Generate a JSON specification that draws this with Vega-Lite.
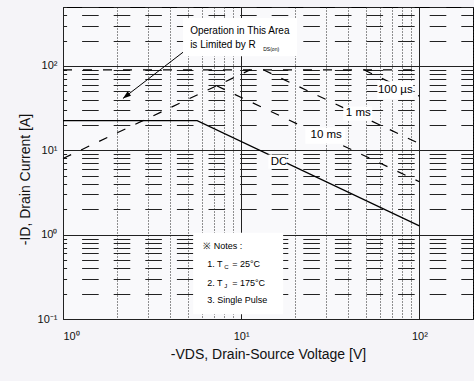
{
  "$schema": "https://vega.github.io/schema/vega-lite/v6.json",
  "width": 410,
  "height": 312,
  "autosize": {"type": "none"},
  "padding": {"left": 63, "top": 7, "right": 1, "bottom": 62},
  "background": "#f5f4f8",
  "config": {
    "font": "Liberation Sans",
    "view": {"stroke": "#000000", "strokeWidth": 1, "fill": "#f9f9fb"},
    "axis": {
      "domain": false,
      "ticks": false,
      "tickSize": 0,
      "grid": true,
      "gridOpacity": 1,
      "labelFont": "Liberation Sans",
      "labelFontSize": 11,
      "labelColor": "#111111",
      "titleFont": "Liberation Sans",
      "titleFontSize": 14,
      "titleFontWeight": "normal",
      "titleColor": "#111111",
      "labelOverlap": false
    }
  },
  "datasets": {
    "limits": [
      {"series": "RDS(on)", "v": 1, "i": 8},
      {"series": "RDS(on)", "v": 11.25, "i": 90},
      {"series": "IDM", "v": 1, "i": 90},
      {"series": "IDM", "v": 100, "i": 90},
      {"series": "100 us", "v": 48.8, "i": 90},
      {"series": "100 us", "v": 100, "i": 43.9},
      {"series": "1 ms", "v": 13.3, "i": 90},
      {"series": "1 ms", "v": 100, "i": 12},
      {"series": "10 ms", "v": 7.28, "i": 58.2},
      {"series": "10 ms", "v": 100, "i": 4.24}
    ],
    "dc": [
      {"v": 1, "i": 22.5},
      {"v": 5.66, "i": 22.5},
      {"v": 100, "i": 1.27}
    ],
    "arrow": [
      {"v": 4.72, "i": 145.6},
      {"v": 2.17, "i": 41.2}
    ],
    "arrowTip": [
      {"v": 2.17, "i": 41.2}
    ],
    "boxes": [
      {"name": "annotation", "v": 4.72, "v2": 20.6, "i": 130, "i2": 370},
      {"name": "notes", "v": 5.38, "v2": 17.2, "i": 0.114, "i2": 1.05},
      {"name": "DC", "v": 14.2, "v2": 18.1, "i": 6.05, "i2": 8.9},
      {"name": "100 us", "v": 58.1, "v2": 92.5, "i": 40.2, "i2": 65.8},
      {"name": "1 ms", "v": 37.4, "v2": 54.4, "i": 22.6, "i2": 33.1},
      {"name": "10 ms", "v": 22.9, "v2": 38.4, "i": 12.0, "i2": 18.6}
    ],
    "curveLabels": [
      {"v": 73.3, "i": 51.4, "text": "100 µs"},
      {"v": 45.4, "i": 27.4, "text": "1 ms"},
      {"v": 30.0, "i": 15.0, "text": "10 ms"},
      {"v": 16.3, "i": 7.33, "text": "DC"}
    ],
    "annotation": [
      {"v": 5.17, "i": 259, "text": "Operation in This Area"},
      {"v": 5.17, "i": 176, "text": "is Limited by R"}
    ],
    "notes": [
      {"v": 6.12, "i": 0.734, "text": "※ Notes :"},
      {"v": 6.44, "i": 0.448, "text": "1. T"},
      {"v": 8.9, "i": 0.448, "text": "= 25°C"},
      {"v": 6.44, "i": 0.266, "text": "2. T"},
      {"v": 8.9, "i": 0.266, "text": "= 175°C"},
      {"v": 6.44, "i": 0.167, "text": "3. Single Pulse"}
    ],
    "annotationSub": [
      {"v": 13.3, "i": 158, "text": "DS(on)"}
    ],
    "noteSub": [
      {"v": 8.03, "i": 0.412, "text": "C"},
      {"v": 8.03, "i": 0.245, "text": "J"}
    ]
  },
  "encoding": {
    "x": {
      "field": "v",
      "type": "quantitative",
      "scale": {"type": "log", "domain": [1, 200], "nice": false},
      "axis": {
        "title": "-VDS, Drain-Source Voltage [V]",
        "titlePadding": 6,
        "labelPadding": 11,
        "values": [1, 2, 3, 4, 5, 6, 7, 8, 9, 10, 20, 30, 40, 50, 60, 70, 80, 90, 100, 200],
        "labelExpr": "datum.value == 1 ? '10\u2070' : datum.value == 10 ? '10\u00b9' : datum.value == 100 ? '10\u00b2' : ''",
        "gridColor": "#222222",
        "gridWidth": 1,
        "gridDash": {"condition": {"test": "datum.value == 1 || datum.value == 10 || datum.value == 100", "value": []}, "value": [1, 2]}
      }
    },
    "y": {
      "field": "i",
      "type": "quantitative",
      "scale": {"type": "log", "domain": [0.1, 500], "nice": false},
      "axis": {
        "title": "-ID, Drain Current [A]",
        "titlePadding": 5,
        "titleY": 172,
        "labelPadding": 6,
        "values": [0.1, 0.2, 0.3, 0.4, 0.5, 0.6, 0.7, 0.8, 0.9, 1, 2, 3, 4, 5, 6, 7, 8, 9, 10, 20, 30, 40, 50, 60, 70, 80, 90, 100, 200, 300, 400, 500],
        "labelExpr": "datum.value == 0.1 ? '10\u207b\u00b9' : datum.value == 1 ? '10\u2070' : datum.value == 10 ? '10\u00b9' : datum.value == 100 ? '10\u00b2' : ''",
        "gridColor": "#222222",
        "gridWidth": 1,
        "gridDash": {"condition": {"test": "datum.value == 0.1 || datum.value == 1 || datum.value == 10 || datum.value == 100", "value": []}, "value": [16.6, 15]},
        "gridDashOffset": 13
      }
    }
  },
  "layer": [
    {
      "data": {"name": "limits"},
      "mark": {"type": "line", "color": "#000000", "strokeWidth": 1.2, "strokeDash": [9, 11]},
      "encoding": {"detail": {"field": "series"}}
    },
    {
      "data": {"name": "dc"},
      "mark": {"type": "line", "color": "#000000", "strokeWidth": 1.2},
      "encoding": {}
    },
    {
      "data": {"name": "arrow"},
      "mark": {"type": "line", "color": "#000000", "strokeWidth": 1},
      "encoding": {}
    },
    {
      "data": {"name": "arrowTip"},
      "mark": {"type": "point", "shape": "M0,0L-0.7,2L0.7,2Z", "size": 64, "angle": 232.5, "filled": true, "color": "#000000", "opacity": 1}
    },
    {
      "data": {"name": "boxes"},
      "mark": {"type": "rect", "fill": "#ffffff", "stroke": null},
      "encoding": {
        "x2": {"field": "v2"},
        "y2": {"field": "i2"}
      }
    },
    {
      "data": {"name": "curveLabels"},
      "mark": {"type": "text", "fontSize": 11.5, "align": "center", "baseline": "middle", "color": "#000000"},
      "encoding": {"text": {"field": "text"}}
    },
    {
      "data": {"name": "annotation"},
      "mark": {"type": "text", "fontSize": 10, "align": "left", "baseline": "middle", "color": "#000000"},
      "encoding": {"text": {"field": "text"}}
    },
    {
      "data": {"name": "notes"},
      "mark": {"type": "text", "fontSize": 9, "align": "left", "baseline": "middle", "color": "#000000"},
      "encoding": {"text": {"field": "text"}}
    },
    {
      "data": {"name": "annotationSub"},
      "mark": {"type": "text", "fontSize": 5, "align": "left", "baseline": "middle", "color": "#000000"},
      "encoding": {"text": {"field": "text"}}
    },
    {
      "data": {"name": "noteSub"},
      "mark": {"type": "text", "fontSize": 6, "align": "left", "baseline": "middle", "color": "#000000"},
      "encoding": {"text": {"field": "text"}}
    }
  ]
}
